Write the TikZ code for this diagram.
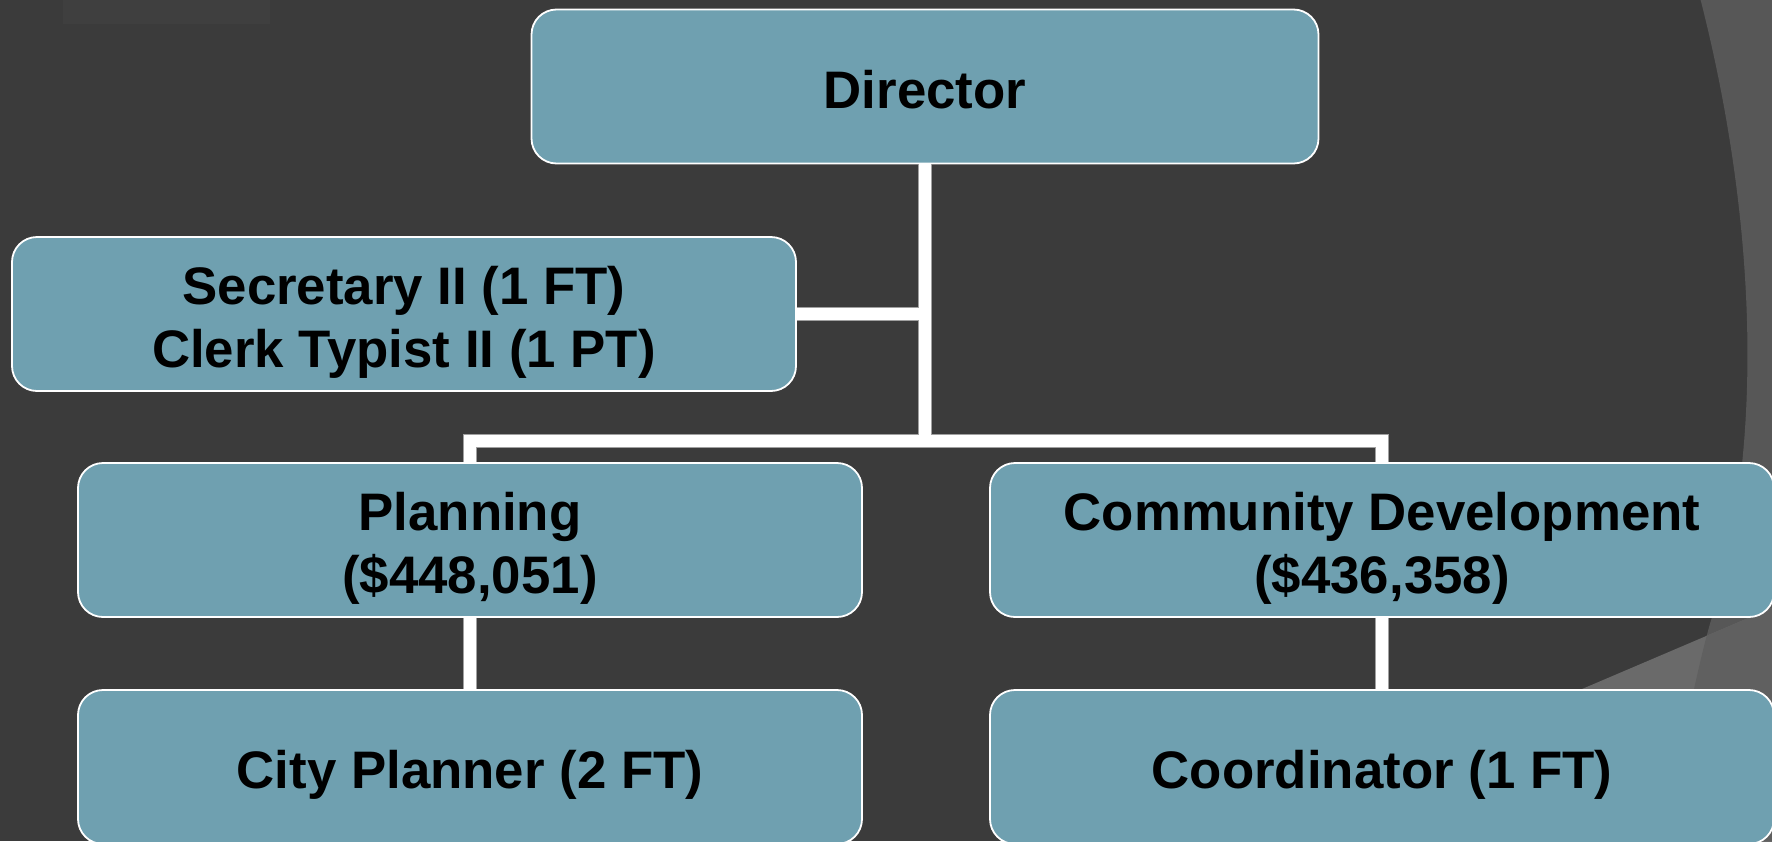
\documentclass[tikz,border=0pt]{standalone}
\usepackage{fontspec}
\setmainfont{Liberation Sans}
\definecolor{bgc}{RGB}{59,59,59}
\definecolor{outc}{RGB}{87,87,87}
\definecolor{wedgein}{RGB}{106,106,106}
\definecolor{wedgeout}{RGB}{96,96,96}
\definecolor{boxc}{RGB}{111,160,176}
\definecolor{edgec}{RGB}{160,160,160}
\tikzset{
  orgbox/.style={draw=white, line width=0.9pt, fill=boxc, rounded corners=12.5pt,
    minimum width=392pt, minimum height=77pt, inner sep=0pt, align=center,
    text=black, font=\fontsize{26.4pt}{31.5pt}\selectfont\bfseries},
  wire/.style={draw=white, line width=6pt},
  wireedge/.style={draw=edgec, line width=6.8pt}
}
\newcommand\dn[2][4pt]{\raisebox{-#1}[\height][\depth]{#2}}
\newcommand\arcpath{(1698,-10) .. controls (1748,180) and (1772,420) .. (1712,617) .. controls (1697,666) and (1680,760) .. (1660,841)}
\newcommand\orgwires[1]{%
  \draw[#1] (dir.south) -- (dir.south |- busy);
  \draw[#1] (sec.east) -- (sec.east -| dir.south);
  \draw[#1] (plan.north) -- (plan.north |- busy) -| (cd.north);
  \draw[#1] (plan.south) -- (city.north);
  \draw[#1] (cd.south) -- (coord.north);
}
\begin{document}
\begin{tikzpicture}[x=0.5pt, y=-0.5pt]
\useasboundingbox (0,0) rectangle (1772,841);
\begin{scope}
\clip (0,0) rectangle (1772,841);
\fill[bgc] (0,0) rectangle (1772,841);
% faint picture fragment at top left
\fill[white, opacity=0.025] (63,0) rectangle (270,24);
% outside of the large arc
\fill[outc] \arcpath -- (1800,841) -- (1800,-10) -- cycle;
% light wedge
\begin{scope}
\clip (1400,768) -- (1582,689) -- (1800,596) -- (1800,900) -- (1400,900) -- cycle;
\fill[wedgein] (1400,560) rectangle (1800,900);
\fill[wedgeout] \arcpath -- (1800,841) -- (1800,-10) -- cycle;
\end{scope}
% boxes
\node[orgbox, minimum width=393.5pt] (dir) at (925,86.5) {\dn[1.7pt]{Director}};
\node[orgbox] (sec) at (404,314) {\dn{Secretary II (1 FT)}\\\dn{Clerk Typist II (1 PT)}};
\node[orgbox] (plan) at (470,540) {\dn{Planning}\\\dn{(\$448,051)}};
\node[orgbox] (cd) at (1382,540) {\dn{Community Development}\\\dn{(\$436,358)}};
\node[orgbox] (city) at (470,767) {\dn{City Planner (2 FT)}};
\node[orgbox] (coord) at (1382,767) {\dn{Coordinator (1 FT)}};
\coordinate (busy) at (925,441);
\orgwires{wireedge}
\orgwires{wire}
\end{scope}
\end{tikzpicture}
\end{document}
